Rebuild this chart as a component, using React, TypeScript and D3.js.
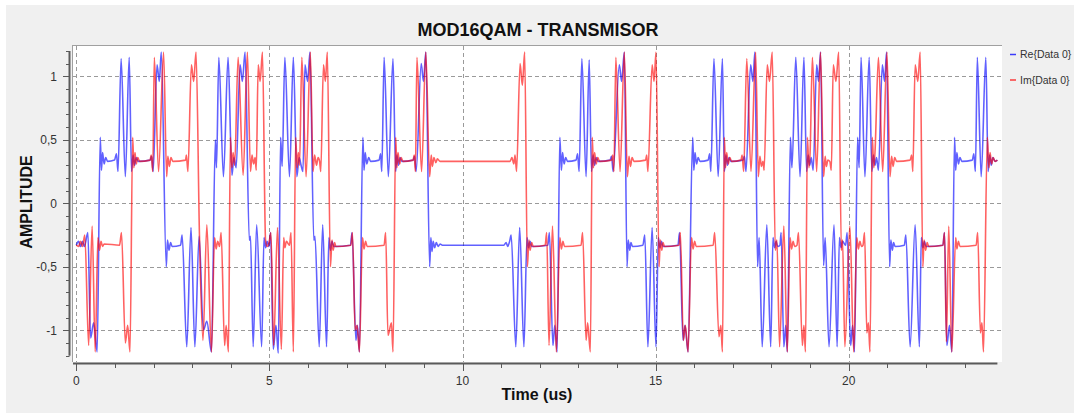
import React from "react";
import * as d3 from "d3";

// Re{Data 0}: [time (us), amplitude]
const RE_SAMPLES: [number, number][] = [
  [0.00,-0.33],[0.06,-0.30],[0.11,-0.34],[0.16,-0.30],[0.21,-0.34],[0.30,-0.23],[0.37,-1.06],[0.45,-0.94],[0.54,-1.17],[0.62,0.52],[0.65,0.26],[0.68,0.40],[0.72,0.31],[0.76,0.36],[0.81,0.33],[0.99,0.34],[1.04,0.39],[1.08,0.25],[1.16,1.14],[1.27,0.21],[1.37,1.15],[1.43,0.25],[1.47,0.38],[1.51,0.30],[1.55,0.36],[1.60,0.33],[1.91,0.34],[1.95,0.37],[1.99,0.25],[2.09,1.09],[2.15,0.96],[2.20,1.19],[2.33,-0.50],[2.36,-0.29],[2.40,-0.37],[2.44,-0.31],[2.48,-0.34],[2.70,-0.33],[2.74,-0.25],[2.86,-1.13],[2.97,-0.19],[3.07,-1.13],[3.18,-0.26],[3.29,-1.00],[3.38,-0.93],[3.50,-1.17],[3.60,0.50],[3.63,0.28],[3.69,1.15],[3.81,0.21],[3.93,1.15],[4.03,0.22],[4.08,0.36],[4.14,0.28],[4.24,1.09],[4.30,0.96],[4.37,1.19],[4.48,-0.29],[4.51,-0.26],[4.58,-1.13],[4.67,-0.17],[4.80,-1.13],[4.86,-0.27],[4.90,-0.35],[4.94,-0.30],[4.99,-0.34],[5.03,-0.23],[5.10,-1.15],[5.17,-0.96],[5.23,-1.18],[5.29,0.52],[5.33,0.29],[5.40,1.15],[5.52,0.21],[5.62,1.15],[5.71,0.21],[5.77,0.36],[5.82,0.30],[5.87,0.25],[5.92,1.09],[5.99,0.96],[6.05,1.19],[6.15,-0.29],[6.18,-0.26],[6.29,-1.13],[6.38,-0.17],[6.48,-1.13],[6.54,-0.27],[6.58,-0.37],[6.62,-0.30],[6.67,-0.34],[7.10,-0.33],[7.14,-0.23],[7.24,-1.08],[7.28,-0.96],[7.33,-1.17],[7.42,0.52],[7.45,0.26],[7.48,0.40],[7.52,0.31],[7.57,0.36],[7.62,0.33],[7.84,0.34],[7.88,0.39],[7.91,0.25],[7.97,1.15],[8.08,0.21],[8.20,1.14],[8.27,0.25],[8.30,0.38],[8.34,0.30],[8.38,0.36],[8.43,0.33],[8.72,0.34],[8.76,0.37],[8.80,0.25],[8.93,1.10],[8.99,0.96],[9.05,1.19],[9.15,-0.50],[9.18,-0.27],[9.21,-0.38],[9.24,-0.30],[9.28,-0.35],[9.32,-0.31],[9.37,-0.34],[9.42,-0.32],[9.48,-0.33],[11.07,-0.33],[11.13,-0.31],[11.17,-0.34],[11.22,-0.30],[11.26,-0.25],[11.38,-1.13],[11.48,-0.19],[11.59,-1.13],[11.67,-0.27],[11.71,-0.35],[11.75,-0.30],[11.79,-0.34],[12.21,-0.33],[12.25,-0.23],[12.34,-1.12],[12.39,-0.96],[12.45,-1.17],[12.52,0.52],[12.56,0.26],[12.59,0.40],[12.63,0.31],[12.67,0.36],[12.72,0.33],[12.94,0.34],[12.98,0.39],[13.02,0.25],[13.09,1.14],[13.20,0.21],[13.28,1.13],[13.34,0.25],[13.38,0.38],[13.42,0.30],[13.46,0.36],[13.51,0.33],[13.82,0.34],[13.86,0.37],[13.90,0.25],[14.06,1.09],[14.12,0.96],[14.19,1.19],[14.26,-0.50],[14.29,-0.29],[14.33,-0.37],[14.36,-0.31],[14.40,-0.34],[14.67,-0.33],[14.72,-0.25],[14.80,-1.13],[14.91,-0.19],[15.01,-1.13],[15.07,-0.27],[15.11,-0.35],[15.15,-0.30],[15.19,-0.34],[15.58,-0.33],[15.62,-0.23],[15.71,-1.08],[15.76,-0.96],[15.84,-1.17],[15.96,0.52],[15.99,0.26],[16.02,0.40],[16.06,0.31],[16.10,0.36],[16.15,0.33],[16.36,0.34],[16.40,0.39],[16.43,0.25],[16.51,1.14],[16.62,0.21],[16.73,1.14],[16.78,0.25],[16.82,0.38],[16.86,0.30],[16.90,0.36],[16.95,0.33],[17.26,0.34],[17.30,0.37],[17.34,0.25],[17.46,1.09],[17.52,0.96],[17.57,1.19],[17.64,-0.50],[17.68,-0.27],[17.76,-1.13],[17.88,-0.17],[17.98,-1.13],[18.04,-0.27],[18.08,-0.35],[18.12,-0.30],[18.16,-0.34],[18.22,-0.33],[18.25,-0.23],[18.32,-1.13],[18.37,-0.96],[18.41,-1.17],[18.49,0.52],[18.53,0.28],[18.63,1.15],[18.74,0.21],[18.84,1.15],[18.91,0.25],[18.95,0.38],[18.99,0.30],[19.03,0.36],[19.08,0.26],[19.17,1.09],[19.22,0.96],[19.27,1.19],[19.35,-0.49],[19.39,-0.27],[19.49,-1.13],[19.62,-0.17],[19.70,-1.13],[19.76,-0.27],[19.80,-0.35],[19.84,-0.30],[19.92,-0.33],[19.96,-0.23],[20.05,-1.12],[20.10,-0.96],[20.15,-1.17],[20.23,0.52],[20.27,0.28],[20.32,1.15],[20.42,0.21],[20.53,1.15],[20.60,0.25],[20.64,0.38],[20.68,0.30],[20.72,0.36],[20.77,0.26],[20.87,1.09],[20.93,0.96],[20.98,1.19],[21.06,-0.50],[21.09,-0.29],[21.13,-0.37],[21.16,-0.31],[21.20,-0.34],[21.44,-0.33],[21.48,-0.25],[21.59,-1.13],[21.72,-0.17],[21.83,-1.13],[21.88,-0.27],[21.92,-0.35],[21.96,-0.30],[22.00,-0.34],[22.44,-0.33],[22.48,-0.23],[22.54,-1.12],[22.61,-0.96],[22.67,-1.17],[22.74,0.52],[22.77,0.26],[22.80,0.40],[22.84,0.31],[22.88,0.36],[22.93,0.33],[23.20,0.34],[23.24,0.39],[23.28,0.25],[23.33,1.15],[23.43,0.21],[23.55,1.15],[23.61,0.25],[23.65,0.38],[23.69,0.30],[23.73,0.36],[23.79,0.33],[23.85,0.34],
];

// Im{Data 0}: [time (us), amplitude]
const IM_SAMPLES: [number, number][] = [
  [0.00,-0.33],[0.06,-0.34],[0.11,-0.30],[0.16,-0.34],[0.22,-0.25],[0.32,-1.12],[0.41,-0.18],[0.49,-1.17],[0.56,-0.27],[0.60,-0.37],[0.64,-0.30],[0.68,-0.34],[0.72,-0.32],[1.12,-0.33],[1.17,-0.23],[1.27,-1.10],[1.33,-0.96],[1.39,-1.17],[1.46,0.52],[1.49,0.28],[1.52,0.40],[1.55,0.31],[1.59,0.36],[1.64,0.33],[1.91,0.34],[1.94,0.38],[1.98,0.25],[2.02,1.15],[2.13,0.25],[2.26,1.19],[2.34,0.21],[2.37,0.37],[2.41,0.29],[2.45,0.36],[2.50,0.33],[2.83,0.34],[2.85,0.38],[2.89,0.25],[2.98,1.09],[3.04,0.96],[3.10,1.19],[3.19,-0.27],[3.28,-1.08],[3.38,-0.17],[3.50,-1.17],[3.58,-0.27],[3.62,-0.36],[3.66,-0.30],[3.71,-0.34],[3.75,-0.23],[3.84,-1.12],[3.88,-0.96],[3.94,-1.17],[3.99,0.52],[4.03,0.28],[4.06,0.40],[4.10,0.30],[4.19,1.15],[4.32,0.22],[4.43,1.19],[4.51,0.25],[4.55,0.38],[4.59,0.31],[4.63,0.36],[4.66,0.26],[4.71,1.09],[4.76,0.96],[4.82,1.19],[4.90,-0.29],[4.94,-0.34],[4.99,-0.31],[5.04,-0.23],[5.11,-1.12],[5.21,-0.19],[5.31,-1.15],[5.37,-0.27],[5.40,-0.35],[5.44,-0.30],[5.52,-0.33],[5.56,-0.23],[5.62,-1.17],[5.68,0.52],[5.72,0.28],[5.75,0.40],[5.78,0.30],[5.84,1.15],[5.95,0.21],[6.06,1.19],[6.13,0.25],[6.17,0.38],[6.22,0.30],[6.26,0.36],[6.30,0.33],[6.33,0.25],[6.40,1.09],[6.45,0.96],[6.50,1.19],[6.58,-0.50],[6.62,-0.29],[6.65,-0.37],[6.69,-0.31],[6.72,-0.34],[7.11,-0.33],[7.15,-0.23],[7.22,-1.00],[7.27,-0.96],[7.33,-1.17],[7.41,-0.27],[7.45,-0.36],[7.49,-0.30],[7.53,-0.34],[7.97,-0.33],[8.01,-0.23],[8.07,-1.04],[8.16,-0.94],[8.20,-1.17],[8.27,0.52],[8.30,0.28],[8.33,0.40],[8.37,0.31],[8.41,0.36],[8.46,0.33],[8.72,0.34],[8.75,0.38],[8.78,0.25],[8.82,1.15],[8.94,0.25],[9.05,1.19],[9.15,0.21],[9.19,0.38],[9.22,0.29],[9.26,0.36],[9.31,0.32],[9.35,0.35],[9.42,0.33],[11.23,0.33],[11.28,0.36],[11.33,0.31],[11.36,0.38],[11.40,0.25],[11.49,1.10],[11.55,0.93],[11.61,1.19],[11.68,-0.50],[11.72,-0.29],[11.75,-0.37],[11.79,-0.31],[11.83,-0.34],[12.14,-0.33],[12.18,-0.23],[12.24,-1.12],[12.33,-0.18],[12.43,-1.17],[12.52,-0.27],[12.56,-0.36],[12.60,-0.30],[12.64,-0.34],[13.07,-0.33],[13.11,-0.23],[13.20,-1.08],[13.24,-0.94],[13.31,-1.17],[13.36,0.52],[13.39,0.28],[13.42,0.40],[13.46,0.31],[13.50,0.36],[13.55,0.33],[13.86,0.34],[13.89,0.38],[13.92,0.25],[13.97,1.15],[14.08,0.25],[14.19,1.19],[14.27,0.21],[14.31,0.37],[14.35,0.29],[14.39,0.36],[14.44,0.33],[14.74,0.34],[14.77,0.38],[14.80,0.25],[14.91,1.09],[14.96,0.96],[15.01,1.19],[15.09,-0.50],[15.12,-0.29],[15.16,-0.37],[15.19,-0.31],[15.23,-0.34],[15.61,-0.33],[15.64,-0.23],[15.72,-1.08],[15.77,-0.96],[15.84,-1.17],[15.93,-0.27],[15.97,-0.36],[16.01,-0.30],[16.05,-0.34],[16.49,-0.33],[16.53,-0.23],[16.64,-1.05],[16.69,-0.96],[16.73,-1.17],[16.78,0.52],[16.81,0.28],[16.84,0.40],[16.88,0.31],[16.92,0.36],[16.97,0.33],[17.21,0.34],[17.24,0.38],[17.28,0.25],[17.36,1.14],[17.47,0.25],[17.59,1.19],[17.66,0.21],[17.70,0.37],[17.74,0.29],[17.78,0.33],[17.81,0.26],[17.89,1.09],[17.95,0.96],[18.02,1.19],[18.10,-0.37],[18.14,-0.29],[18.21,-1.13],[18.32,-0.18],[18.41,-1.17],[18.48,-0.27],[18.52,-0.36],[18.56,-0.30],[18.60,-0.34],[18.66,-0.33],[18.70,-0.23],[18.80,-1.12],[18.84,-0.96],[18.88,-1.17],[18.93,0.52],[18.97,0.28],[19.00,0.40],[19.06,1.15],[19.17,0.25],[19.27,1.19],[19.35,0.21],[19.39,0.37],[19.42,0.29],[19.46,0.34],[19.51,0.33],[19.55,0.26],[19.60,1.09],[19.67,0.96],[19.74,1.19],[19.81,-0.37],[19.84,-0.29],[19.90,-1.13],[20.03,-0.18],[20.13,-1.17],[20.21,-0.27],[20.25,-0.36],[20.29,-0.30],[20.33,-0.34],[20.37,-0.33],[20.41,-0.23],[20.47,-1.02],[20.51,-0.94],[20.55,-1.17],[20.61,0.52],[20.65,0.28],[20.68,0.40],[20.77,1.15],[20.88,0.25],[20.99,1.19],[21.07,0.21],[21.11,0.37],[21.15,0.29],[21.19,0.36],[21.24,0.33],[21.59,0.34],[21.63,0.38],[21.66,0.25],[21.72,1.09],[21.79,0.96],[21.85,1.19],[21.92,-0.50],[21.95,-0.29],[21.99,-0.37],[22.03,-0.31],[22.07,-0.34],[22.44,-0.33],[22.48,-0.23],[22.53,-1.09],[22.59,-0.18],[22.67,-1.17],[22.77,-0.27],[22.80,-0.36],[22.84,-0.30],[22.88,-0.34],[23.30,-0.33],[23.34,-0.23],[23.41,-1.02],[23.45,-0.94],[23.49,-1.17],[23.59,0.52],[23.63,0.28],[23.66,0.40],[23.70,0.31],[23.74,0.36],[23.79,0.33],[23.85,0.34],
];

const Y_MAJOR = [-1, -0.5, 0, 0.5, 1];
const Y_LABELS = ["-1", "-0,5", "0", "0,5", "1"];
const X_MAJOR = [0, 5, 10, 15, 20];
const X_LABELS = ["0", "5", "10", "15", "20"];
const SERIES_NAMES = ["Re{Data 0}", "Im{Data 0}"];
const SERIES_COLORS = ["#0000ff", "#ff0000"];

const W = 1074;
const H = 413;
const CANVAS = { left: 72, right: 1002, top: 45, bottom: 362 };
const FONT = "'Liberation Sans', Arial, sans-serif";

const x = d3.scaleLinear().domain([0, 23.85]).range([76.3, 997.4]);
const y = d3.scaleLinear().domain([-1.2, 1.2]).range([355.7, 50.9]);

export default function App() {
  const line = d3
    .line<[number, number]>()
    .x((d) => x(d[0]))
    .y((d) => y(d[1]))
    .curve(d3.curveMonotoneX);

  const xMinor = d3.range(0, 24).filter((t) => t % 5 !== 0);
  const yMinor = d3.range(-12, 13).map((i) => i / 10).filter((v) => Math.abs((v * 2) % 1) > 1e-6);
  const axisX = 69.5;
  const axisY = 363.5;

  return (
    <svg width={W} height={H} style={{ display: "block" }} fontFamily={FONT}>
      <style>{`body{margin:0}`}</style>
      <rect x={0} y={0} width={W} height={H} fill="#ffffff" />
      <rect x={6} y={5} width={W - 6} height={H - 5} fill="#f0f0f0" />

      {/* plot canvas */}
      <rect x={CANVAS.left} y={CANVAS.top} width={CANVAS.right - CANVAS.left} height={CANVAS.bottom - CANVAS.top} fill="#ffffff" />
      <line x1={CANVAS.left} x2={CANVAS.right} y1={CANVAS.top + 0.5} y2={CANVAS.top + 0.5} stroke="#a0a0a0" />
      <line x1={CANVAS.left + 0.5} x2={CANVAS.left + 0.5} y1={CANVAS.top} y2={CANVAS.bottom} stroke="#a0a0a0" />

      <defs>
        <clipPath id="canvas-clip">
          <rect x={CANVAS.left + 1} y={CANVAS.top + 1} width={CANVAS.right - CANVAS.left - 1} height={CANVAS.bottom - CANVAS.top - 1} />
        </clipPath>
      </defs>

      {/* grid */}
      <g stroke="#9a9a9a" strokeWidth={1} strokeDasharray="4 3">
        {Y_MAJOR.map((v) => (
          <line key={"gy" + v} x1={CANVAS.left + 1} x2={CANVAS.right} y1={Math.round(y(v)) + 0.5} y2={Math.round(y(v)) + 0.5} />
        ))}
        {X_MAJOR.map((t) => (
          <line key={"gx" + t} x1={Math.round(x(t)) + 0.5} x2={Math.round(x(t)) + 0.5} y1={CANVAS.top + 1} y2={CANVAS.bottom} />
        ))}
      </g>

      {/* traces */}
      <g clipPath="url(#canvas-clip)" fill="none" strokeWidth={1.6} strokeLinejoin="round">
        <path d={line(RE_SAMPLES) || ""} stroke={SERIES_COLORS[0]} strokeOpacity={0.62} />
        <path d={line(IM_SAMPLES) || ""} stroke={SERIES_COLORS[1]} strokeOpacity={0.62} />
      </g>

      {/* y axis */}
      <line x1={axisX} x2={axisX} y1={y(1.2)} y2={y(-1.2)} stroke="#5a5a5a" strokeWidth={2} />
      <g stroke="#5a5a5a" strokeWidth={1}>
        {Y_MAJOR.map((v) => (
          <line key={"ty" + v} x1={63} x2={axisX} y1={Math.round(y(v)) + 0.5} y2={Math.round(y(v)) + 0.5} />
        ))}
        {yMinor.map((v) => (
          <line key={"my" + v} x1={66} x2={axisX} y1={Math.round(y(v)) + 0.5} y2={Math.round(y(v)) + 0.5} />
        ))}
      </g>
      <g fontSize={12} fill="#333333" textAnchor="end">
        {Y_MAJOR.map((v, i) => (
          <text key={"ly" + v} x={57} y={y(v)} dy="0.36em">
            {Y_LABELS[i]}
          </text>
        ))}
      </g>

      {/* x axis */}
      <line x1={73} x2={x(23.85)} y1={axisY} y2={axisY} stroke="#5a5a5a" strokeWidth={2} />
      <g stroke="#5a5a5a" strokeWidth={1}>
        {X_MAJOR.map((t) => (
          <line key={"tx" + t} x1={Math.round(x(t)) + 0.5} x2={Math.round(x(t)) + 0.5} y1={axisY} y2={371} />
        ))}
        {xMinor.map((t) => (
          <line key={"mx" + t} x1={Math.round(x(t)) + 0.5} x2={Math.round(x(t)) + 0.5} y1={axisY} y2={368} />
        ))}
      </g>
      <g fontSize={12} fill="#333333" textAnchor="middle">
        {X_MAJOR.map((t, i) => (
          <text key={"lx" + t} x={x(t)} y={385}>
            {X_LABELS[i]}
          </text>
        ))}
      </g>

      {/* titles */}
      <text x={538} y={36} textAnchor="middle" fontSize={18} fontWeight="bold" fill="#111111">
        MOD16QAM - TRANSMISOR
      </text>
      <text x={537} y={400} textAnchor="middle" fontSize={16} fontWeight="bold" fill="#111111">
        Time (us)
      </text>
      <text transform="translate(31.5,202) rotate(-90)" textAnchor="middle" fontSize={16} fontWeight="bold" fill="#111111">
        AMPLITUDE
      </text>

      {/* legend */}
      {SERIES_NAMES.map((name, i) => (
        <g key={name} transform={`translate(0, ${54.5 + i * 25.5})`}>
          <line x1={1010} x2={1016} y1={0} y2={0} stroke={SERIES_COLORS[i]} strokeOpacity={0.75} strokeWidth={1.5} />
          <text x={1020} y={0} dy="0.35em" fontSize={10.5} fill="#333333">
            {name}
          </text>
        </g>
      ))}
    </svg>
  );
}
